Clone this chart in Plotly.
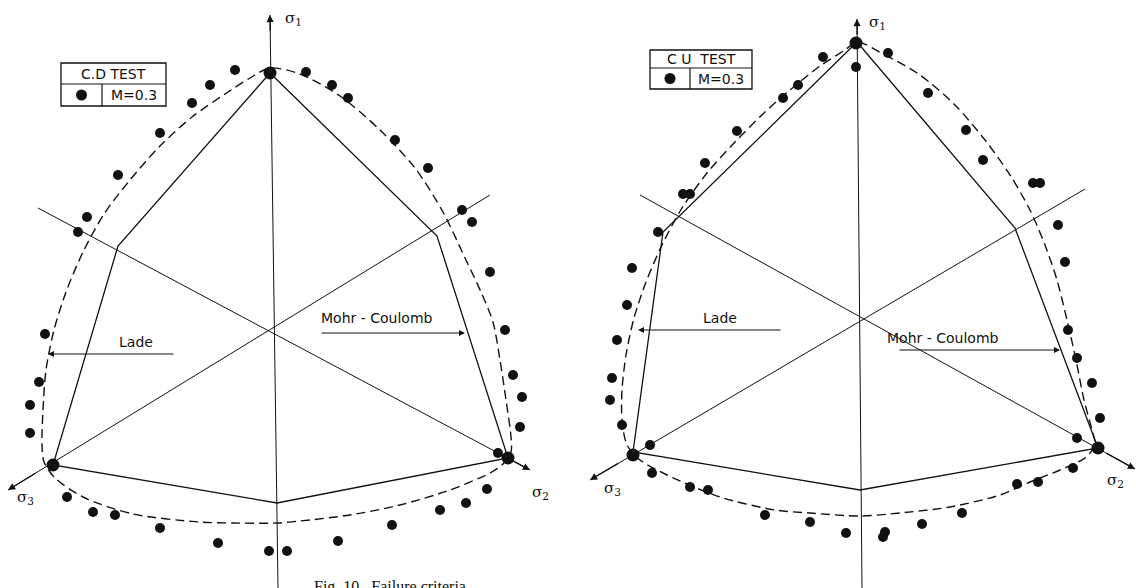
import plotly.graph_objects as go

# Deviatoric (octahedral) plane, both panels in the same normalized stress units.
# x: horizontal deviatoric component, y: along the sigma-1 projection.

# ---------------- Drained test (left panel) ----------------
cd_mc_x = [-0.02, 1.65, 2.36, 0.05, -2.19, -1.54, -0.02]
cd_mc_y = [2.58, 0.95, -1.27, -1.72, -1.34, 0.85, 2.58]

cd_lade_x = [-0.02, 0.28, 0.68, 1.08, 1.43, 1.71, 1.93, 2.09, 2.21, 2.28, 2.34, 2.39, 2.39, 2.31,
             2.18, 1.78, 1.28, 0.78, 0.28, 0.05, -0.39, -0.72, -1.39, -1.89, -2.17, -2.28, -2.30,
             -2.29, -2.26, -2.18, -2.06, -1.89, -1.68, -1.42, -1.12, -0.80, -0.47, -0.22, -0.02]
cd_lade_y = [2.63, 2.57, 2.35, 2.01, 1.63, 1.19, 0.73, 0.39, 0.09, -0.29, -0.69, -1.06, -1.21, -1.33,
             -1.42, -1.59, -1.74, -1.84, -1.90, -1.92, -1.92, -1.91, -1.83, -1.66, -1.47, -1.31, -1.14,
             -0.79, -0.39, 0.01, 0.39, 0.79, 1.17, 1.51, 1.85, 2.14, 2.37, 2.53, 2.63]

cd_pts_x = [-0.37, -0.62, -0.80, -1.12, -1.54, -1.85, -1.94, -2.27, -2.33, -2.42, -2.42,
            -2.05, -1.79, -1.57, -1.12, -0.54, -0.03, 0.15, 0.66, 1.20, 1.68, 1.94, 2.15,
            2.26, 2.48, 2.50, 2.41, 2.33, 2.18, 2.00, 1.90, 1.56, 1.23, 0.76, 0.60, 0.34]
cd_pts_y = [2.61, 2.46, 2.28, 1.98, 1.56, 1.14, 0.99, -0.03, -0.51, -0.74, -1.02,
            -1.66, -1.81, -1.84, -1.97, -2.12, -2.20, -2.20, -2.10, -1.94, -1.79, -1.72, -1.58,
            -1.22, -0.96, -0.66, -0.44, 0.01, 0.59, 1.09, 1.21, 1.63, 1.91, 2.33, 2.46, 2.59]
# points sitting on the compression vertices
cd_vtx_x = [-0.02, 2.36, -2.19]
cd_vtx_y = [2.58, -1.27, -1.34]

# principal stress axis projections (tail -> head)
cd_ax1 = ([0.06, -0.02], [-2.57, 3.16])
cd_ax2 = ([-2.34, 2.58], [1.23, -1.39])
cd_ax3 = ([2.18, -2.64], [1.36, -1.59])

# ---------------- Undrained test (right panel) ----------------
cu_mc_x = [-0.03, 1.55, 2.38, 0.00, -2.27, -1.97, -0.03]
cu_mc_y = [2.77, 0.91, -1.29, -1.71, -1.33, 0.87, 2.77]

cu_lade_x = [-0.03, 0.25, 0.60, 0.95, 1.25, 1.50, 1.70, 1.85, 1.97, 2.07, 2.16, 2.24, 2.32, 2.35,
             2.25, 2.00, 1.70, 1.40, 0.90, 0.40, 0.00, -0.50, -0.85, -1.40, -1.93, -2.20, -2.33,
             -2.38, -2.38, -2.34, -2.26, -2.14, -1.98, -1.78, -1.53, -1.25, -0.95, -0.70, -0.40,
             -0.15, -0.03]
cu_lade_y = [2.77, 2.64, 2.44, 2.14, 1.79, 1.44, 1.09, 0.74, 0.39, -0.01, -0.41, -0.81, -1.11, -1.26,
             -1.39, -1.51, -1.63, -1.76, -1.88, -1.94, -1.97, -1.94, -1.91, -1.78, -1.56, -1.41, -1.26,
             -1.01, -0.71, -0.36, 0.01, 0.37, 0.74, 1.11, 1.46, 1.77, 2.07, 2.29, 2.53,
             2.69, 2.77]

cu_pts_x = [-0.04, 0.28, -0.37, -0.62, -0.77, 0.68, 1.06, 1.23, 1.73, 1.80, 1.98, 2.05, 2.08,
            2.17, 2.32, 2.40, 2.17, 2.13, 1.78, 1.57, 1.02, 0.62, 0.25, 0.23, -0.14, -0.50,
            -0.95, -1.52, -1.70, -2.08, -2.10, -2.38, -2.50, -2.48, -2.43, -2.33, -2.28, -2.02,
            -1.77, -1.70, -1.55, -1.23]
cu_pts_y = [2.52, 2.66, 2.62, 2.34, 2.21, 2.26, 1.89, 1.59, 1.36, 1.36, 0.94, 0.57, -0.11,
            -0.39, -0.64, -0.99, -1.19, -1.49, -1.63, -1.65, -1.94, -2.05, -2.13, -2.18, -2.14, -2.03,
            -1.96, -1.71, -1.68, -1.54, -1.26, -1.06, -0.81, -0.59, -0.21, 0.14, 0.51, 0.87,
            1.25, 1.25, 1.56, 1.88]
cu_vtx_x = [-0.04, 2.38, -2.27]
cu_vtx_y = [2.76, -1.29, -1.36]

cu_ax1 = ([0.02, -0.03], [-2.69, 3.00])
cu_ax2 = ([-2.20, 2.75], [1.24, -1.50])
cu_ax3 = ([2.25, -2.70], [1.30, -1.61])

INK = "#111111"
LABEL_FONT = dict(family="DejaVu Sans, Liberation Sans, sans-serif", size=14, color=INK)
BOX_FONT = dict(family="DejaVu Sans, Liberation Sans, sans-serif", size=14, color=INK)
SIGMA_FONT = dict(family="DejaVu Serif, Liberation Serif, serif", size=15, color=INK)

fig = go.Figure()


def add_panel(xa, ya, mc, lade, pts, vtx, axes):
    for ax_x, ax_y in axes:
        fig.add_trace(go.Scatter(x=ax_x, y=ax_y, mode="lines", xaxis=xa, yaxis=ya,
                                 line=dict(color=INK, width=1), hoverinfo="skip"))
    fig.add_trace(go.Scatter(x=mc[0], y=mc[1], mode="lines", xaxis=xa, yaxis=ya,
                             line=dict(color=INK, width=1.3), hoverinfo="skip"))
    fig.add_trace(go.Scatter(x=lade[0], y=lade[1], mode="lines", xaxis=xa, yaxis=ya,
                             line=dict(color=INK, width=1.4, dash="9px,5px", shape="spline",
                                       smoothing=0.8), hoverinfo="skip"))
    fig.add_trace(go.Scatter(x=pts[0], y=pts[1], mode="markers", xaxis=xa, yaxis=ya,
                             marker=dict(color=INK, size=10, line=dict(width=0))))
    fig.add_trace(go.Scatter(x=vtx[0], y=vtx[1], mode="markers", xaxis=xa, yaxis=ya,
                             marker=dict(color=INK, size=13, line=dict(width=0))))
    # arrowheads at the ends of the principal stress axes
    for i, (ax_x, ax_y) in enumerate(axes):
        f = 0.03 if i == 0 else 0.06
        tail = (ax_x[1] + (ax_x[0] - ax_x[1]) * f, ax_y[1] + (ax_y[0] - ax_y[1]) * f)
        fig.add_annotation(x=ax_x[1], y=ax_y[1], ax=tail[0], ay=tail[1], xref=xa, yref=ya,
                           axref=xa, ayref=ya, showarrow=True, arrowhead=2, arrowsize=1.1,
                           arrowwidth=1.3, arrowcolor=INK, text="")


add_panel("x", "y", (cd_mc_x, cd_mc_y), (cd_lade_x, cd_lade_y), (cd_pts_x, cd_pts_y),
          (cd_vtx_x, cd_vtx_y), [cd_ax1, cd_ax2, cd_ax3])
add_panel("x2", "y2", (cu_mc_x, cu_mc_y), (cu_lade_x, cu_lade_y), (cu_pts_x, cu_pts_y),
          (cu_vtx_x, cu_vtx_y), [cu_ax1, cu_ax2, cu_ax3])


def text(xr, yr, x, y, s, font, **kw):
    fig.add_annotation(x=x, y=y, xref=xr, yref=yr, text=s, showarrow=False, font=font, **kw)


def pointer(xr, yr, tip, tail):
    fig.add_annotation(x=tip[0], y=tip[1], ax=tail[0], ay=tail[1], xref=xr, yref=yr,
                       axref=xr, ayref=yr, showarrow=True, arrowhead=2, arrowsize=1,
                       arrowwidth=1.2, arrowcolor=INK, text="")


# principal stress labels
text("x", "y", 0.21, 3.13, "σ<sub>1</sub>", SIGMA_FONT)
text("x", "y", 2.68, -1.61, "σ<sub>2</sub>", SIGMA_FONT)
text("x", "y", -2.47, -1.66, "σ<sub>3</sub>", SIGMA_FONT)
text("x2", "y2", 0.17, 2.97, "σ<sub>1</sub>", SIGMA_FONT)
text("x2", "y2", 2.55, -1.61, "σ<sub>2</sub>", SIGMA_FONT)
text("x2", "y2", -2.48, -1.69, "σ<sub>3</sub>", SIGMA_FONT)

# criterion labels with pointers
text("x", "y", -1.36, -0.11, "Lade", LABEL_FONT)
pointer("x", "y", (-2.24, -0.23), (-0.97, -0.23))
text("x", "y", 1.05, 0.13, "Mohr - Coulomb", LABEL_FONT)
pointer("x", "y", (1.93, -0.02), (0.48, -0.02))
text("x2", "y2", -1.40, 0.01, "Lade", LABEL_FONT)
pointer("x2", "y2", (-2.22, -0.11), (-0.78, -0.11))
text("x2", "y2", 0.83, -0.19, "Mohr - Coulomb", LABEL_FONT)
pointer("x2", "y2", (2.00, -0.31), (0.38, -0.31))

# legend boxes
for xr, yr, (x0, x1, y0, y1, ym, xm), title in [
        ("x", "y", (-2.11, -1.06, 2.25, 2.68, 2.47, -1.70), "C.D TEST"),
        ("x2", "y2", (-2.10, -1.08, 2.30, 2.69, 2.51, -1.70), "C U  TEST")]:
    fig.add_shape(type="rect", xref=xr, yref=yr, x0=x0, x1=x1, y0=y0, y1=y1,
                  line=dict(color=INK, width=1.3))
    fig.add_shape(type="line", xref=xr, yref=yr, x0=x0, x1=x1, y0=ym, y1=ym,
                  line=dict(color=INK, width=1.2))
    fig.add_shape(type="line", xref=xr, yref=yr, x0=xm, x1=xm, y0=y0, y1=ym,
                  line=dict(color=INK, width=1.2))
    text(xr, yr, (x0 + x1) / 2, (ym + y1) / 2, title, BOX_FONT)
    text(xr, yr, (xm + x1) / 2, (y0 + ym) / 2, "M=0.3", BOX_FONT)
    fig.add_trace(go.Scatter(x=[(x0 + xm) / 2], y=[(y0 + ym) / 2], mode="markers",
                             xaxis=xr, yaxis=yr, marker=dict(color=INK, size=11)))

# caption, mostly below the bottom edge
fig.add_annotation(x=0.275, y=0, xref="paper", yref="paper", xanchor="left", yanchor="top",
                   yshift=12, showarrow=False, text="Fig. 10   Failure criteria",
                   font=dict(family="Liberation Serif, serif", size=16, color=INK))

ax_common = dict(visible=False, showgrid=False, zeroline=False, fixedrange=True)
fig.update_layout(
    width=1136, height=588, margin=dict(l=0, r=0, t=0, b=0),
    paper_bgcolor="white", plot_bgcolor="white", showlegend=False,
    xaxis=dict(domain=[0, 0.5], range=[-2.72, 2.96], **ax_common),
    yaxis=dict(domain=[0, 1], range=[-2.57, 3.31], **ax_common),
    xaxis2=dict(domain=[0.5, 1], range=[-2.92, 2.76], anchor="y2", **ax_common),
    yaxis2=dict(domain=[0, 1], range=[-2.69, 3.19], anchor="x2", **ax_common),
)

fig.write_html("out.html")
